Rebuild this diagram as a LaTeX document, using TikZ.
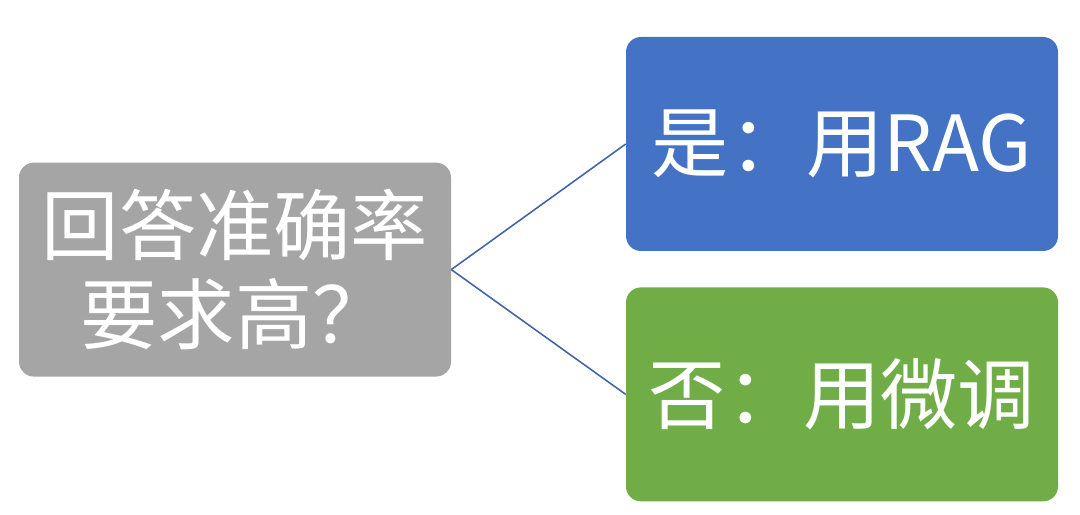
\documentclass[tikz,border=0pt]{standalone}
\usepackage{fontspec}
\newfontfamily\cjk{Noto Sans CJK SC}
\usepackage{tikz}
\usetikzlibrary{positioning}

\definecolor{askgray}{HTML}{A5A5A5}
\definecolor{yesblue}{HTML}{4472C4}
\definecolor{nogreen}{HTML}{70AD47}
\definecolor{linkblue}{HTML}{3F62A8}

\begin{document}
\begin{tikzpicture}[
    box/.style={rectangle, rounded corners=0.375cm, minimum width=10.8cm, minimum height=5.35cm, inner sep=0pt, align=center, text=white, font=\cjk\fontsize{55}{63}\selectfont},
    link/.style={draw=linkblue, line width=1.1pt}
]
\useasboundingbox (0,0) rectangle (27,12.85);

% Question (left)
\node[box, fill=askgray] (ask) at (5.875, 6.11) {回答准确率\\要求高？};

% Answers (right)
\node[box, fill=yesblue] (yes) at (21.05, 9.25) {是：用RAG};
\node[box, fill=nogreen] (no) at (21.05, 2.99) {否：用微调};

% Links
\draw[link] (ask.east) -- (yes.west);
\draw[link] (ask.east) -- (no.west);

\end{tikzpicture}
\end{document}
